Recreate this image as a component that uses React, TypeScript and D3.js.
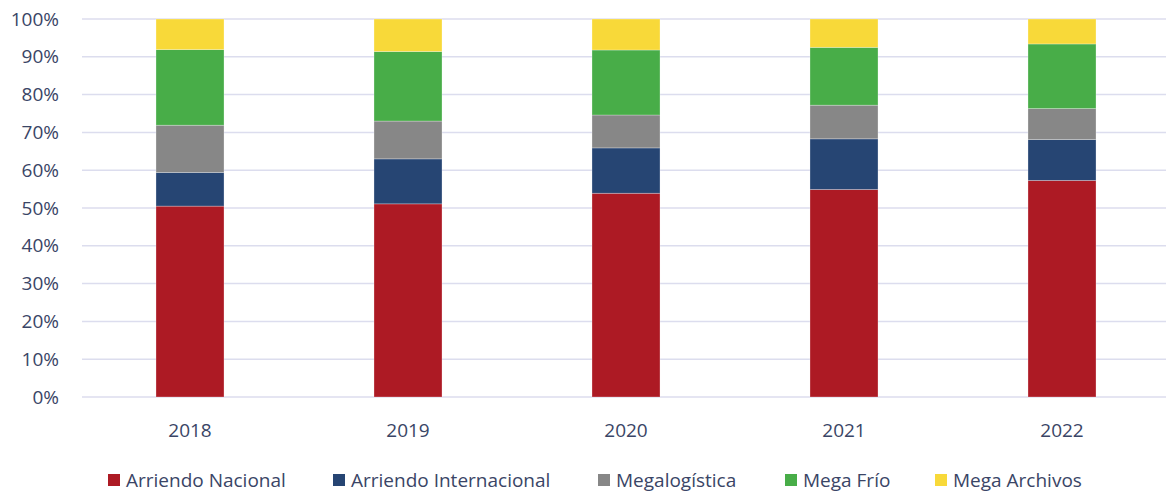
import React from "react";
import * as d3 from "d3";

const years = ["2018", "2019", "2020", "2021", "2022"];
const seriesNames = ["Arriendo Nacional", "Arriendo Internacional", "Megalogística", "Mega Frío", "Mega Archivos"];
const arriendoNacional = [50.5, 51.1, 53.9, 54.9, 57.3];
const arriendoInternacional = [8.9, 11.9, 12.0, 13.4, 10.8];
const megalogistica = [12.5, 10.0, 8.7, 8.9, 8.2];
const megaFrio = [20.0, 18.4, 17.2, 15.3, 17.1];
const megaArchivos = [8.1, 8.6, 8.2, 7.5, 6.6];
const yTicks = [0, 10, 20, 30, 40, 50, 60, 70, 80, 90, 100];
const colors = ["#AD1A24", "#264573", "#878787", "#48AD48", "#F8D939"];

const W = 1166;
const H = 496;
const font = "'Open Sans', 'Noto Sans', sans-serif";
const textColor = "#3A4566";
const fs = 19;

export default function App() {
  const seriesValues = [arriendoNacional, arriendoInternacional, megalogistica, megaFrio, megaArchivos];
  const rows = years.map((y, i) => {
    const r: any = { year: y };
    seriesNames.forEach((s, k) => (r[s] = seriesValues[k][i]));
    return r;
  });
  const stack = d3.stack().keys(seriesNames).offset(d3.stackOffsetExpand);
  const stacked = stack(rows);

  const x = d3.scaleBand().domain(years).range([81, 1171]).paddingInner(0.688).paddingOuter(0.344);
  const y = d3.scaleLinear().domain([0, 1]).range([397, 19]);

  const legendX = [108, 333, 598, 785, 935];

  return (
    <svg width={W} height={H} style={{ position: "absolute", left: 0, top: 0, background: "#fff" }}>
      {yTicks.map((t) => (
        <g key={t}>
          <line x1={82} x2={W} y1={y(t / 100)} y2={y(t / 100)} stroke="#DCDDEE" strokeWidth={1.5} />
          <text x={59} y={y(t / 100)} dy="0.35em" textAnchor="end" fontFamily={font} fontSize={fs} fill={textColor}>
            {t}%
          </text>
        </g>
      ))}
      {stacked.map((s, k) => (
        <g key={s.key} fill={colors[k]}>
          {s.map((d, i) => (
            <rect
              key={i}
              x={x(years[i])}
              width={x.bandwidth()}
              y={y(d[1])}
              height={y(d[0]) - y(d[1])}
              stroke="#ffffff"
              strokeOpacity={0.35}
              strokeWidth={0.8}
            />
          ))}
        </g>
      ))}
      {years.map((yr) => (
        <text key={yr} x={x(yr)! + x.bandwidth() / 2} y={430} dy="0.35em" textAnchor="middle" fontFamily={font} fontSize={fs} fill={textColor}>
          {yr}
        </text>
      ))}
      {seriesNames.map((s, k) => (
        <g key={s}>
          <rect x={legendX[k]} y={474} width={12} height={12} fill={colors[k]} />
          <text x={legendX[k] + 18} y={480} dy="0.35em" fontFamily={font} fontSize={fs} fill={textColor}>
            {s}
          </text>
        </g>
      ))}
    </svg>
  );
}
